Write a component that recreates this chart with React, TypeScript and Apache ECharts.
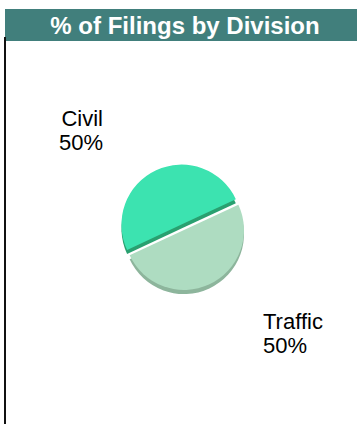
import React, { useEffect, useRef } from "react";
import * as echarts from "echarts";

const titleText = "% of Filings by Division";
const categories = ["Civil", "Traffic"];
const values = [50, 50];
const faceColors = ["#3ce3b0", "#aedcc1"];
const sideColors = ["#29a070", "#8db59c"];

export default function App() {
  const ref = useRef<HTMLDivElement>(null);
  useEffect(() => {
    document.body.style.margin = "0";
    const chart = echarts.init(ref.current!, null, { renderer: "svg" });
    const cx = 184;
    const cy = 230;
    const r = 60;
    const mk = (colors: string[], sel: boolean) =>
      categories.map((name, i) => ({
        name,
        value: values[i],
        selected: sel && i === 0,
        itemStyle: { color: colors[i] },
        select: { itemStyle: { color: colors[i] } },
      }));
    const base = {
      type: "pie",
      silent: true,
      radius: r,
      startAngle: 205,
      clockwise: true,
      selectedMode: "single",
      selectedOffset: 6,
      labelLine: { show: false },
    };
    chart.setOption({
      animation: false,
      title: {
        text: titleText,
        left: 185,
        top: 13,
        textAlign: "center",
        textStyle: {
          color: "#ffffff",
          fontFamily: "Liberation Sans, Arial, sans-serif",
          fontWeight: "bold",
          fontSize: 24,
        },
        padding: 0,
      },
      graphic: [
        { type: "rect", z: -1, shape: { x: 5, y: 9, width: 352, height: 32 }, style: { fill: "#417f7c" } },
        { type: "rect", shape: { x: 4, y: 37, width: 2, height: 387 }, style: { fill: "#111111" } },
      ],
      series: [
        {
          ...base,
          center: [cx, cy + 4],
          label: { show: false },
          data: mk(sideColors, true),
          z: 1,
        },
        {
          ...base,
          center: [cx, cy],
          label: { show: false },
          data: mk(faceColors, true),
          z: 2,
        },
        {
          ...base,
          selectedMode: false,
          center: [cx, cy],
          label: {
            show: true,
            position: "outside",
            formatter: "{b}\n{d}%",
            fontFamily: "Liberation Sans, Arial, sans-serif",
            fontSize: 22,
            lineHeight: 24,
            color: "#000000",
          },
          labelLayout: (p: any) =>
            p.dataIndex === 0
              ? { x: 103, y: 106, align: "right", verticalAlign: "top" }
              : { x: 263, y: 309, align: "left", verticalAlign: "top" },
          itemStyle: { color: "rgba(0,0,0,0)" },
          data: categories.map((name, i) => ({ name, value: values[i], itemStyle: { color: "rgba(0,0,0,0)" } })),
          z: 3,
        },
      ],
    });
    return () => chart.dispose();
  }, []);
  return <div ref={ref} style={{ width: 357, height: 424 }} />;
}
